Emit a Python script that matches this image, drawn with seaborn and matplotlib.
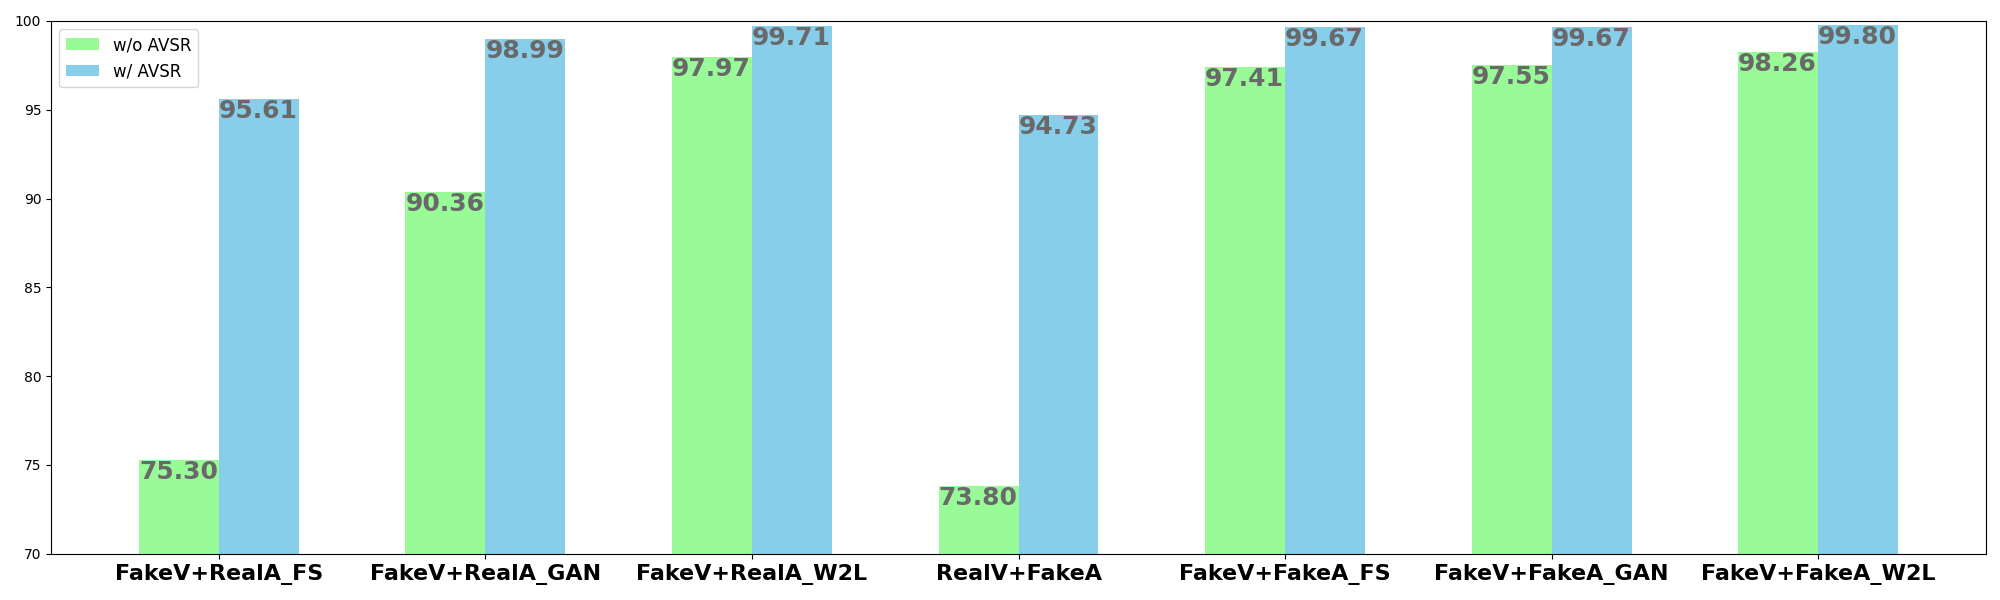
import matplotlib
matplotlib.use("Agg")
import matplotlib.pyplot as plt
import seaborn as sns
import pandas as pd

categories = ["FakeV+RealA_FS", "FakeV+RealA_GAN", "FakeV+RealA_W2L", "RealV+FakeA",
              "FakeV+FakeA_FS", "FakeV+FakeA_GAN", "FakeV+FakeA_W2L"]
wo_avsr = [75.30, 90.36, 97.97, 73.80, 97.41, 97.55, 98.26]
w_avsr = [95.61, 98.99, 99.71, 94.73, 99.67, 99.67, 99.80]
series = ["w/o AVSR", "w/ AVSR"]

df = pd.DataFrame({
    "category": categories * 2,
    "value": wo_avsr + w_avsr,
    "series": [series[0]] * len(categories) + [series[1]] * len(categories),
})

fig, ax = plt.subplots(figsize=(20, 6), dpi=100)
sns.barplot(data=df, x="category", y="value", hue="series", order=categories,
            hue_order=series, palette=["palegreen", "skyblue"], width=0.6,
            gap=0, saturation=1, errorbar=None, ax=ax)

for cont in ax.containers:
    for bar in cont:
        h = bar.get_height()
        ax.text(bar.get_x(), h, f"{h:.2f}", ha="left", va="top",
                fontsize=18, fontweight="bold", color="dimgray")

ax.set_ylim(70, 100)
ax.set_xlim(-0.63, 6.63)
ax.set_xlabel("")
ax.set_ylabel("")
ax.tick_params(axis="x", labelsize=16)
for lab in ax.get_xticklabels():
    lab.set_fontweight("bold")
ax.legend(loc="upper left", fontsize=12)
plt.subplots_adjust(left=0.0255, right=0.993, top=0.965, bottom=0.077)
fig.savefig("out.png", dpi=100)
